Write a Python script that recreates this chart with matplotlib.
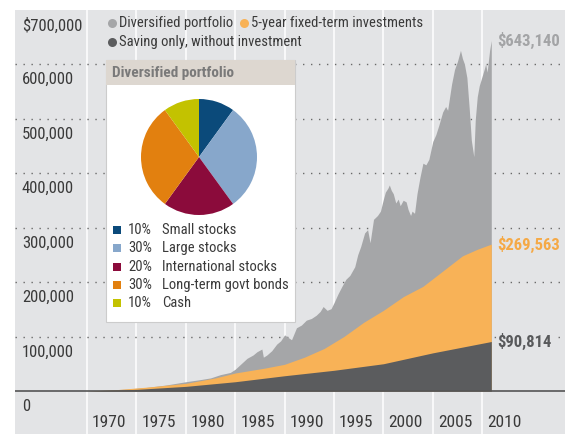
#!/usr/bin/env python3
"""Growth of a diversified portfolio vs fixed-term investments vs saving only."""

import matplotlib

matplotlib.use("Agg")
import matplotlib.pyplot as plt
import matplotlib.transforms as mtransforms
from matplotlib import font_manager
from matplotlib.patches import Rectangle

# ---- data -------------------------------------------------------------
DIV_YEARS = [
    1970.0, 1972.0, 1974.0, 1976.0, 1978.0, 1980.0, 1981.5, 1982.5, 1983.5, 1984.5,
    1985.0, 1985.6, 1986.2, 1986.8, 1987.2, 1987.7, 1987.85, 1988.2, 1988.7, 1989.2,
    1989.6, 1990.0, 1990.3, 1990.7, 1991.2, 1991.7, 1992.2, 1992.7, 1993.2, 1993.6,
    1993.9, 1994.3, 1994.7, 1995.0, 1995.4, 1995.8, 1996.2, 1996.6, 1997.1, 1997.4,
    1997.7, 1998.1, 1998.4, 1998.65, 1999.0, 1999.4, 1999.7, 2000.0, 2000.2, 2000.45,
    2000.6, 2000.8, 2001.0, 2001.25, 2001.5, 2001.7, 2002.0, 2002.3, 2002.5, 2002.75,
    2002.9, 2003.15, 2003.4, 2003.7, 2004.0, 2004.3, 2004.6, 2005.0, 2005.3, 2005.6,
    2006.0, 2006.3, 2006.5, 2006.9, 2007.2, 2007.5, 2007.8, 2008.0, 2008.2, 2008.45,
    2008.7, 2008.9, 2009.15, 2009.3, 2009.5, 2009.7, 2010.0, 2010.2, 2010.35, 2010.5,
    2010.75, 2010.92,
]
DIV_VALUES = [
    0, 1500, 3500, 6500, 11000, 17000, 21000, 24000, 30000, 34000,
    40000, 50000, 60000, 66000, 72000, 77000, 62000, 66000, 74000, 86000,
    92000, 103000, 99000, 94000, 116000, 121000, 130000, 133000, 139000, 146000,
    155000, 148000, 151000, 162000, 178000, 192000, 205000, 212000, 228000, 250000,
    265000, 290000, 296000, 272000, 315000, 322000, 330000, 352000, 365000, 372000,
    378000, 368000, 362000, 345000, 352000, 340000, 350000, 347000, 333000, 322000,
    330000, 326000, 362000, 392000, 418000, 415000, 425000, 458000, 470000, 487000,
    512000, 522000, 515000, 563000, 590000, 605000, 625000, 610000, 600000, 575000,
    515000, 460000, 430000, 498000, 540000, 560000, 578000, 590000, 600000, 585000,
    625000, 643140,
]

FIXED_YEARS = [1970, 1973, 1976, 1980, 1983, 1985, 1988, 1990, 1992, 1994,
               1996, 1998, 2000, 2002, 2004, 2006, 2008, 2009.5, 2010.92]
FIXED_VALUES = [0, 2500, 7000, 14000, 24000, 33000, 42000, 49000, 62000, 78000,
                100000, 126000, 148000, 173000, 192000, 220000, 248000, 260000, 269563]

SAVE_YEARS = [1970, 1975, 1980, 1985, 1990, 1995, 2000, 2005, 2010.92]
SAVE_VALUES = [0, 3000, 8500, 17000, 28000, 38000, 50000, 70000, 90814]

Y_TICKS = [0, 100000, 200000, 300000, 400000, 500000, 600000, 700000]
Y_LABELS = ["0", "100,000", "200,000", "300,000", "400,000", "500,000", "600,000", "$700,000"]
DECADE_YEARS = [1970, 1975, 1980, 1985, 1990, 1995, 2000, 2005, 2010]

SERIES_NAMES = ["Diversified portfolio", "5-year fixed-term investments",
                "Saving only, without investment"]
END_LABELS = ["$643,140", "$269,563", "$90,814"]

MIX_SHARES = [10, 30, 20, 30, 10]
MIX_NAMES = ["Small stocks", "Large stocks", "International stocks",
             "Long-term govt bonds", "Cash"]

# ---- style ------------------------------------------------------------
PANEL = "#e3e4e6"
GREY = "#a5a6a8"
ORANGE = "#f8b257"
DARK = "#5b5c5e"
TEXT = "#3a3a3a"
MIX_COLORS = ["#0b4a7a", "#87a7cb", "#8b0b3b", "#e2800f", "#c3c200"]

names = {f.name for f in font_manager.fontManager.ttflist}
FONT = next((n for n in ["Liberation Sans Narrow", "Roboto Condensed", "DejaVu Sans"]
             if n in names), "DejaVu Sans")
plt.rcParams["font.family"] = [FONT, "DejaVu Sans"]

W, H = 571, 434
fig = plt.figure(figsize=(W / 100, H / 100), dpi=100)

# main axes fills the grey panel (pixels 15..565 x 9.5..434)
ax = fig.add_axes([15 / W, 0, 550 / W, 424.5 / H])
ax.set_facecolor(PANEL)
x_per_year = 9.88
ax.set_xlim(1970 + (15 - 87) / x_per_year, 1970 + (565 - 87) / x_per_year)
ax.set_ylim(-43 / 0.000545, 381.5 / 0.000545)
for s in ax.spines.values():
    s.set_visible(False)
ax.set_xticks([])
ax.set_yticks([])

for yr in DECADE_YEARS:
    ax.axvline(yr, color="white", lw=1.1, zorder=1)
for v in Y_TICKS[1:-1]:
    ax.axhline(v, color="#6a6a6a", lw=1.0, ls=(0, (1, 4.75)), zorder=1.5)

ax.fill_between(DIV_YEARS, DIV_VALUES, color=GREY, lw=0, zorder=2)
ax.fill_between(FIXED_YEARS, FIXED_VALUES, color=ORANGE, lw=0, zorder=3)
ax.fill_between(SAVE_YEARS, SAVE_VALUES, color=DARK, lw=0, zorder=4)
ax.axhline(0, color="#555555", lw=1.2, zorder=5)

below = mtransforms.offset_copy(ax.transData, fig, x=0, y=-8, units="dots")
for v, lab in zip(Y_TICKS, Y_LABELS):
    ax.text(1963.4, v, lab, transform=below, ha="left", va="top",
            fontsize=12, color=TEXT, zorder=6)

year_tr = mtransforms.offset_copy(ax.get_xaxis_transform(), fig, x=5, y=0, units="dots")
for yr in DECADE_YEARS:
    ax.text(yr, 0.026, str(yr), transform=year_tr, ha="left", va="center",
            fontsize=12.5, color=TEXT, zorder=6)

end_tr = mtransforms.offset_copy(ax.transData, fig, x=6, y=0, units="dots")
end_values = [DIV_VALUES[-1], FIXED_VALUES[-1], SAVE_VALUES[-1]]
end_colors = ["#a3a4a6", "#f5a946", "#58595b"]
for v, lab, c in zip(end_values, END_LABELS, end_colors):
    ax.text(DIV_YEARS[-1], v, lab, transform=end_tr, ha="left", va="center",
            fontsize=12, fontweight="bold", color=c, zorder=6,
            bbox=dict(facecolor=PANEL, edgecolor="none", pad=0.5))

# overlay in pixel coordinates for legend and inset frame
ov = fig.add_axes([0, 0, 1, 1])
ov.set_xlim(0, W)
ov.set_ylim(H, 0)
ov.axis("off")

legend_pos = [(112, 23), (244, 23), (112, 42)]
for (px, py), name, c in zip(legend_pos, SERIES_NAMES, [GREY, ORANGE, DARK]):
    ov.plot(px, py, "o", ms=6.5, color=c, mec="none")
    ov.text(px + 7, py, name, ha="left", va="center", fontsize=10.5, color=TEXT)

ov.add_patch(Rectangle((106, 60), 189, 262, facecolor="white", edgecolor="#cccccc", lw=0.8))
ov.add_patch(Rectangle((106, 60), 189, 25, facecolor="#ddd7d0", edgecolor="none"))
ov.text(112, 73, "Diversified portfolio", ha="left", va="center", fontsize=11,
        fontweight="bold", color="#7a7a7a")

for i, (share, name, c) in enumerate(zip(MIX_SHARES, MIX_NAMES, MIX_COLORS)):
    ry = 230 + i * 18.3
    ov.add_patch(Rectangle((113, ry - 4), 8, 8, facecolor=c, edgecolor="none"))
    ov.text(128, ry, f"{share}%", ha="left", va="center", fontsize=10.5, color=TEXT)
    ov.text(162, ry, name, ha="left", va="center", fontsize=10.5, color=TEXT)

pie_ax = fig.add_axes([(199 - 58) / W, (H - 157 - 58) / H, 116 / W, 116 / H])
pie_ax.pie(MIX_SHARES, colors=MIX_COLORS, startangle=90, counterclock=False,
           wedgeprops=dict(linewidth=0))
pie_ax.set_xlim(-1.0, 1.0)
pie_ax.set_ylim(-1.0, 1.0)

fig.savefig("out.png", dpi=100, facecolor="white")
